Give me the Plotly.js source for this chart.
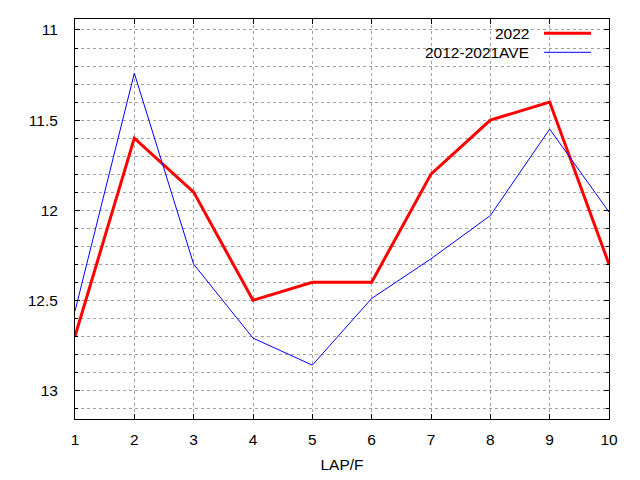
<!DOCTYPE html>
<html>
<head>
<meta charset="utf-8">
<script src="https://cdn.plot.ly/plotly-3.0.1.min.js"></script>
<style>html,body{margin:0;padding:0;background:#fff;}#chart{width:640px;height:480px;}</style>
</head>
<body>
<div id="chart"></div>
<script>
var laps = [1, 2, 3, 4, 5, 6, 7, 8, 9, 10];
var times2022 = [12.7, 11.6, 11.9, 12.5, 12.4, 12.4, 11.8, 11.5, 11.4, 12.3];
var timesAve = [12.56, 11.24, 12.30, 12.71, 12.86, 12.49, 12.27, 12.03, 11.55, 12.01];
var seriesNames = ["2022", "2012-2021AVE"];
var yTickVals = [11, 11.5, 12, 12.5, 13];
var yTickText = ["11", "11.5", "12", "12.5", "13"];
var xTitle = "LAP/F";

var font = "Liberation Sans, Arial, sans-serif";
var gridColor = "#a0a0a0";

var traces = [
  {x: laps, y: times2022, mode: "lines", name: seriesNames[0],
   line: {color: "#ff0000", width: 3}, showlegend: false},
  {x: laps, y: timesAve, mode: "lines", name: seriesNames[1],
   line: {color: "#0000ff", width: 1}, showlegend: false}
];

function px(x) { return (x - 75) / 534; }
function py(y) { return (419 - y) / 400; }

var layout = {
  width: 640, height: 480,
  margin: {l: 75, r: 31, t: 19, b: 61},
  paper_bgcolor: "#ffffff", plot_bgcolor: "#ffffff",
  font: {family: font, size: 15.5, color: "#000"},
  showlegend: false,
  xaxis: {
    range: [1, 10], tickmode: "array", tickvals: laps, ticktext: laps.map(String),
    ticks: "inside", ticklen: 5, tickcolor: "#000", tickwidth: 1,
    showline: true, linecolor: "#000", linewidth: 1, mirror: "ticks",
    showgrid: true, gridcolor: gridColor, gridwidth: 1, griddash: "3px,3px",
    zeroline: false, ticklabelstandoff: 6,
    title: {text: xTitle, font: {family: font, size: 15.5}, standoff: 12}
  },
  yaxis: {
    range: [13.159, 10.939], tickmode: "array", tickvals: yTickVals, ticktext: yTickText,
    ticks: "inside", ticklen: 5, tickcolor: "#000", tickwidth: 1,
    showline: true, linecolor: "#000", linewidth: 1, mirror: "ticks",
    showgrid: true, gridcolor: gridColor, gridwidth: 1, griddash: "3px,3px",
    zeroline: false, ticklabelstandoff: 13,
    minor: {dtick: 0.1, tick0: 11, ticks: "inside", ticklen: 3, tickcolor: "#000",
            showgrid: true, gridcolor: gridColor, gridwidth: 1, griddash: "3px,3px"}
  },
  shapes: [
    {type: "rect", xref: "paper", yref: "paper", x0: px(413), x1: px(597), y0: py(61), y1: py(21),
     fillcolor: "#ffffff", line: {width: 0}, layer: "between"},
    {type: "line", xref: "paper", yref: "paper", x0: px(544), x1: px(591), y0: py(33.3), y1: py(33.3),
     line: {color: "#ff0000", width: 3}},
    {type: "line", xref: "paper", yref: "paper", x0: px(544), x1: px(591), y0: py(52.3), y1: py(52.3),
     line: {color: "#0000ff", width: 1}}
  ],
  annotations: [
    {xref: "paper", yref: "paper", x: px(531), y: py(33), xanchor: "right", yanchor: "middle",
     text: seriesNames[0], showarrow: false, font: {family: font, size: 15.5}},
    {xref: "paper", yref: "paper", x: px(531), y: py(52), xanchor: "right", yanchor: "middle",
     text: seriesNames[1], showarrow: false, font: {family: font, size: 15.5}}
  ]
};

Plotly.newPlot("chart", traces, layout, {staticPlot: true, displayModeBar: false});
</script>
</body>
</html>
